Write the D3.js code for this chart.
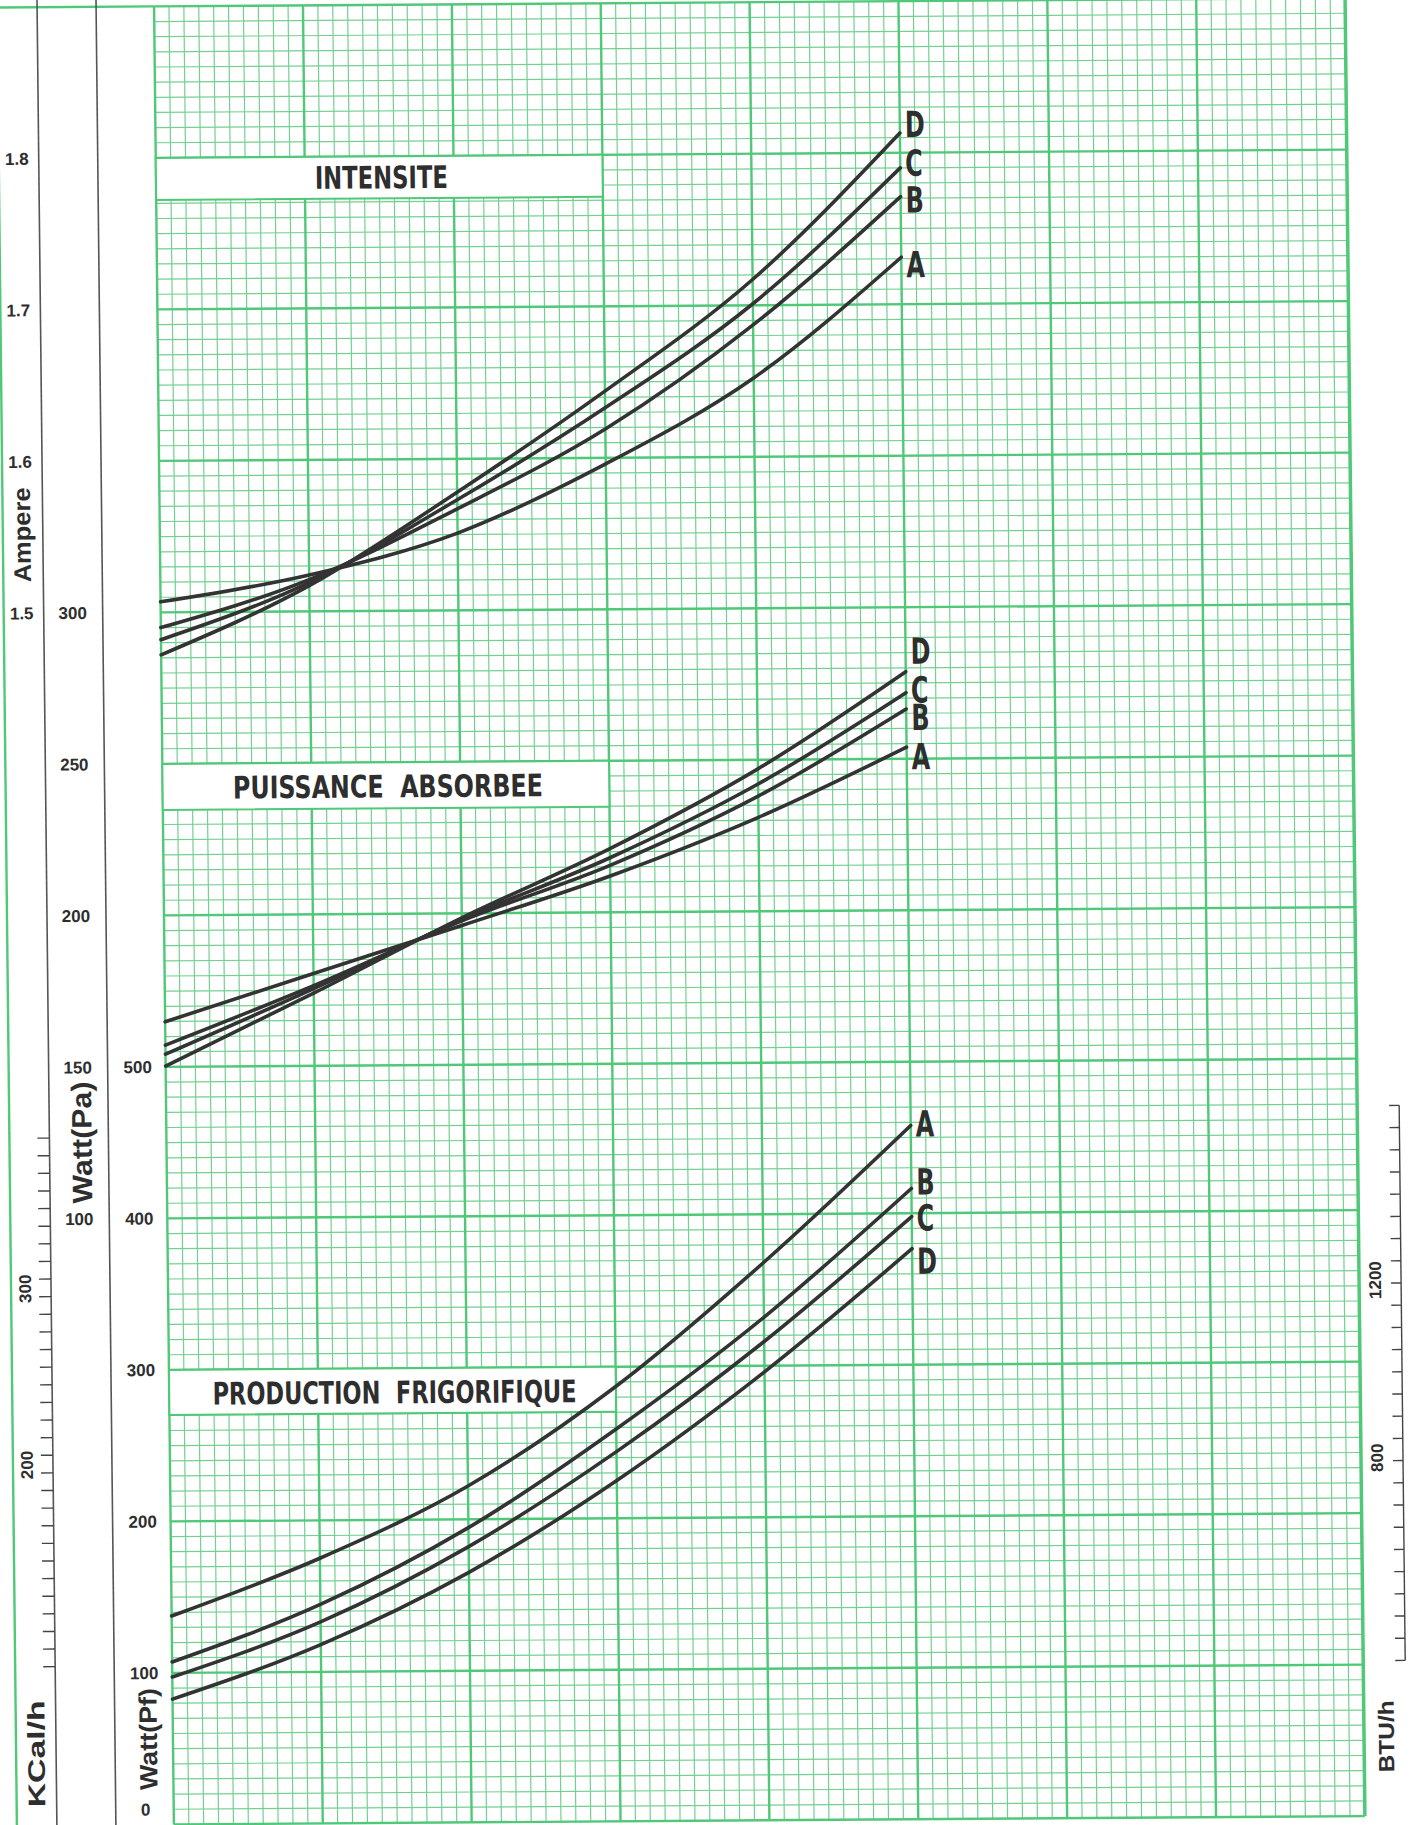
<!DOCTYPE html>
<html>
<head>
<meta charset="utf-8">
<script src="https://cdn.jsdelivr.net/npm/d3@7/dist/d3.min.js"></script>
<style>
  body { margin: 0; background: #fff; }
  svg { display: block; }
</style>
</head>
<body>
<script>
var W = 1415, H = 1825;

// x = minor grid divisions from the left edge of the graph paper
var xPts = [0, 10, 20, 30, 40, 50];
var curveNames = ["A", "B", "C", "D"];

// INTENSITE (Ampere)
var intensiteA = [1.507, 1.524, 1.551, 1.596, 1.652, 1.731];
var intensiteB = [1.490, 1.521, 1.567, 1.619, 1.687, 1.771];
var intensiteC = [1.482, 1.519, 1.573, 1.633, 1.701, 1.790];
var intensiteD = [1.472, 1.517, 1.578, 1.644, 1.717, 1.813];

// PUISSANCE ABSORBEE (Watt Pa)
var puissanceA = [164.9, 180.5, 196.0, 212.0, 231.0, 253.8];
var puissanceB = [157.2, 176.5, 197.5, 215.5, 238.0, 266.4];
var puissanceC = [154.2, 175.5, 198.0, 218.0, 242.0, 271.8];
var puissanceD = [150.3, 174.0, 198.5, 221.0, 247.0, 278.7];

// PRODUCTION FRIGORIFIQUE (Watt Pf)
var productionA = [137.6, 175.0, 222.0, 287.0, 368.0, 457.9];
var productionB = [107.2, 144.5, 194.5, 259.0, 332.0, 416.3];
var productionC = [97.3, 133.0, 182.0, 244.0, 316.0, 397.8];
var productionD = [82.7, 118.0, 165.0, 225.0, 296.0, 376.6];

// tick labels
var ampereTicks = [1.8, 1.7, 1.6, 1.5];
var wattPaTicks = [300, 250, 200, 150, 100];
var wattPfTicks = [500, 400, 300, 200, 100, 0];
var kcalLabels = [300, 200];
var kcalTicks = d3.range(90, 400, 10);
var btuLabels = [1200, 800];
var btuTicks = d3.range(350, 1650, 50);

var KCAL_W = 1.163, BTU_W = 3.412;

var minorCol = "#74d092", majorCol = "#4fc878", ink = "#2e2e2e";
var narrow = "'Liberation Sans Narrow', 'DejaVu Sans Condensed', 'Arial Narrow', sans-serif";
var sans = "'Liberation Sans', Arial, sans-serif";

var svg = d3.select("body").append("svg").attr("width", W).attr("height", H);
svg.append("rect").attr("width", W).attr("height", H).attr("fill", "#fff");

// the scanned sheet sits slightly skewed
var page = svg.append("g").attr("transform", "matrix(1,-0.007,0.0109,1,0,0)");

var gridLeft = 154, gridRight = 1345, gridTop = 7.5, gridBottom = 1825.5;
var gx = d3.scaleLinear().domain([0, 80]).range([gridLeft, gridRight]);
var gy = d3.scaleLinear().domain([0, 120]).range([gridTop, gridBottom]);
var yAmp = d3.scaleLinear().domain([1.9, 0.7]).range([gridTop, gridBottom]);
var yPa = d3.scaleLinear().domain([500, -100]).range([gridTop, gridBottom]);
var yPf = d3.scaleLinear().domain([1200, 0]).range([gridTop, gridBottom]);

// graph paper
var grid = page.append("g");
grid.selectAll("line.vmin").data(d3.range(0, 81).filter(function(d) { return d % 10; }))
  .enter().append("line")
  .attr("x1", function(d) { return gx(d); }).attr("x2", function(d) { return gx(d); })
  .attr("y1", gridTop).attr("y2", gridBottom)
  .attr("stroke", minorCol).attr("stroke-width", 1.2);
grid.selectAll("line.hmin").data(d3.range(0, 121).filter(function(d) { return d % 10; }))
  .enter().append("line")
  .attr("x1", gridLeft).attr("x2", gridRight)
  .attr("y1", function(d) { return gy(d); }).attr("y2", function(d) { return gy(d); })
  .attr("stroke", minorCol).attr("stroke-width", 1.2);
grid.selectAll("line.vmaj").data(d3.range(0, 81, 10))
  .enter().append("line")
  .attr("x1", function(d) { return gx(d); }).attr("x2", function(d) { return gx(d); })
  .attr("y1", gridTop).attr("y2", gridBottom)
  .attr("stroke", majorCol).attr("stroke-width", function(d) { return d == 80 ? 3.5 : 2.4; });
grid.selectAll("line.hmaj").data(d3.range(0, 121, 10))
  .enter().append("line")
  .attr("x1", gridLeft).attr("x2", gridRight)
  .attr("y1", function(d) { return gy(d); }).attr("y2", function(d) { return gy(d); })
  .attr("stroke", majorCol).attr("stroke-width", 2.4);

// outer frame of the sheet
page.append("line").attr("x1", -20).attr("x2", gridLeft).attr("y1", gridTop).attr("y2", gridTop)
  .attr("stroke", majorCol).attr("stroke-width", 2.4);
page.append("line").attr("x1", -3).attr("x2", -3).attr("y1", gridTop).attr("y2", H + 20)
  .attr("stroke", majorCol).attr("stroke-width", 2.4);

// title boxes
var boxes = [
  {text: "INTENSITE", top: yAmp(1.8), h: 42, base: 191, len: 133},
  {text: "PUISSANCE  ABSORBEE", top: yPa(250), h: 46, base: 800, len: 310},
  {text: "PRODUCTION  FRIGORIFIQUE", top: yPf(300), h: 45, base: 1406, len: 364}
];
boxes.forEach(function(b) {
  page.append("rect")
    .attr("x", gx(0)).attr("y", b.top)
    .attr("width", gx(30) - gx(0)).attr("height", b.h)
    .attr("fill", "#fff").attr("stroke", majorCol).attr("stroke-width", 2);
  page.append("text")
    .attr("x", (gx(0) + gx(30)) / 2 + 2).attr("y", b.base)
    .attr("text-anchor", "middle")
    .attr("textLength", b.len).attr("lengthAdjust", "spacingAndGlyphs")
    .style("font-family", narrow).style("font-weight", "bold").style("font-size", "31px")
    .attr("fill", ink).text(b.text.replace(/ /g, "\u00a0"));
});

// curves
var sections = [
  {scale: yAmp, series: [intensiteA, intensiteB, intensiteC, intensiteD], dy: [20, 16, 8, 4]},
  {scale: yPa, series: [puissanceA, puissanceB, puissanceC, puissanceD], dy: [22, 21, 10, -8]},
  {scale: yPf, series: [productionA, productionB, productionC, productionD], dy: [11, 6, 14, 25]}
];
var curves = page.append("g");
sections.forEach(function(s) {
  var line = d3.line()
    .x(function(d, i) { return gx(xPts[i]); })
    .y(function(d) { return s.scale(d); })
    .curve(d3.curveMonotoneX);
  s.series.forEach(function(vals, k) {
    curves.append("path").attr("d", line(vals))
      .attr("fill", "none").attr("stroke", "#333")
      .attr("stroke-width", 3.6).attr("stroke-linecap", "round");
    var last = vals[vals.length - 1];
    curves.append("text")
      .attr("transform", "translate(" + (gx(xPts[xPts.length - 1]) + 5) + "," +
            (s.scale(last) + s.dy[k]) + ") scale(0.74,1)")
      .style("font-family", narrow).style("font-size", "36px").style("font-weight", "bold")
      .attr("fill", ink).text(curveNames[k]);
  });
});

// left scales
var axes = page.append("g").attr("fill", ink)
  .style("font-family", sans).style("font-weight", "bold").style("font-size", "17px");

var line1 = 37, line2 = 96;
[line1, line2].forEach(function(u) {
  axes.append("line").attr("x1", u).attr("x2", u).attr("y1", -30).attr("y2", H + 30)
    .attr("stroke", "#555").attr("stroke-width", 1.6);
});

axes.selectAll("text.amp").data(ampereTicks).enter().append("text")
  .attr("x", 15).attr("y", function(d) { return yAmp(d); })
  .attr("dy", "0.35em").attr("text-anchor", "middle")
  .text(function(d) { return d3.format(".1f")(d); });

axes.selectAll("text.pa").data(wattPaTicks).enter().append("text")
  .attr("x", 66).attr("y", function(d) { return yPa(d); })
  .attr("dy", "0.35em").attr("text-anchor", "middle")
  .text(function(d) { return d; });

axes.selectAll("text.pf").data(wattPfTicks).enter().append("text")
  .attr("x", 126).attr("y", function(d) { return Math.min(yPf(d), gridBottom - 15); })
  .attr("dy", "0.35em").attr("text-anchor", "middle")
  .text(function(d) { return d; });

// KCal/h scale on the left of the first rule
axes.selectAll("line.kc").data(kcalTicks).enter().append("line")
  .attr("x1", line1 - 12).attr("x2", line1)
  .attr("y1", function(d) { return yPf(d * KCAL_W); })
  .attr("y2", function(d) { return yPf(d * KCAL_W); })
  .attr("stroke", "#444").attr("stroke-width", 1.4);
axes.selectAll("text.kc").data(kcalLabels).enter().append("text")
  .attr("transform", function(d) { return "translate(11," + (yPf(d * KCAL_W) - 8) + ") rotate(-90)"; })
  .attr("text-anchor", "middle").attr("dy", "0.35em")
  .style("font-size", "17px")
  .text(function(d) { return d; });

// BTU/h scale on the right
var btuLine = 1387;
axes.append("line").attr("x1", btuLine).attr("x2", btuLine)
  .attr("y1", yPf(btuTicks[btuTicks.length - 1] / BTU_W)).attr("y2", yPf(btuTicks[0] / BTU_W))
  .attr("stroke", "#444").attr("stroke-width", 1.4);
axes.selectAll("line.btu").data(btuTicks).enter().append("line")
  .attr("x1", btuLine - 10).attr("x2", btuLine)
  .attr("y1", function(d) { return yPf(d / BTU_W); })
  .attr("y2", function(d) { return yPf(d / BTU_W); })
  .attr("stroke", "#444").attr("stroke-width", 1.4);
axes.selectAll("text.btu").data(btuLabels).enter().append("text")
  .attr("transform", function(d) { return "translate(1361," + (yPf(d / BTU_W) - 3) + ") rotate(-90)"; })
  .attr("text-anchor", "middle").attr("dy", "0.35em")
  .style("font-size", "17px")
  .text(function(d) { return d; });

// axis titles
var titles = [
  {text: "Ampere", u: 16, v: 535, size: 24, len: 95},
  {text: "Watt(Pa)", u: 69, v: 1143, size: 28, len: 122},
  {text: "Watt(Pf)", u: 129, v: 1740, size: 25, len: 102},
  {text: "KCal/h", u: 17, v: 1754, size: 24, len: 107},
  {text: "BTU/h", u: 1367, v: 1746, size: 22, len: 72}
];
titles.forEach(function(t) {
  axes.append("text")
    .attr("transform", "translate(" + t.u + "," + t.v + ") rotate(-90)")
    .attr("text-anchor", "middle").attr("dy", "0.36em")
    .attr("textLength", t.len).attr("lengthAdjust", "spacingAndGlyphs")
    .style("font-size", t.size + "px")
    .text(t.text);
});
</script>
</body>
</html>
